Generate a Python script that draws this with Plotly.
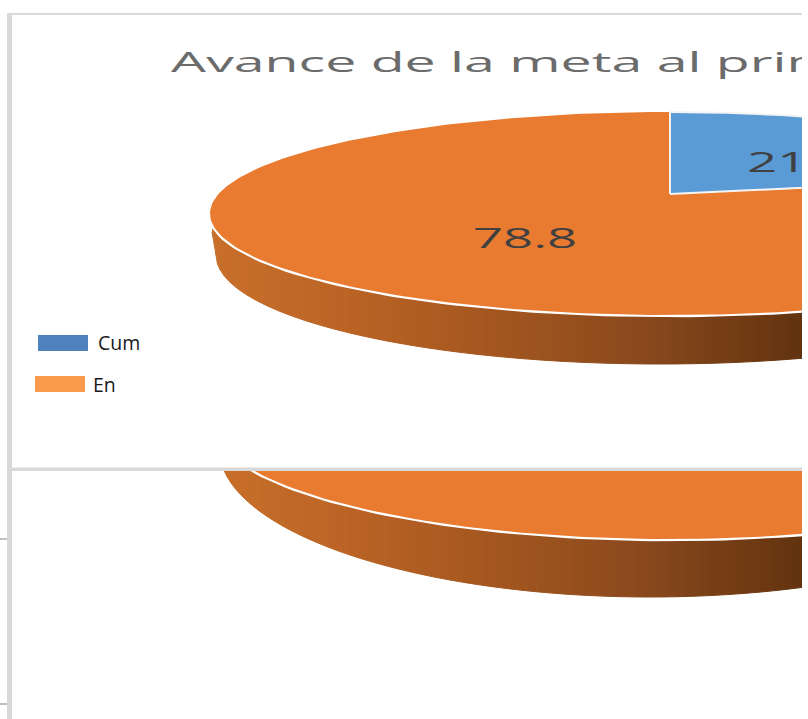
import numpy as np
import plotly.graph_objects as go

# ---- data ----
categories = ["Cum", "En"]
values = [21.2, 78.8]
title_text = "Avance de la meta al primer"

# ---- styling ----
W, H = 802, 719
SLICE_COLORS = ["#5B9BD5", "#E97B30"]
LEGEND_COLORS = ["#4F81BD", "#FA9A4A"]
LEGEND_BOXES = [(38, 335), (35, 376)]
LEGEND_TEXT = [(96, 342.5), (91, 384)]
FRAME = "#D9D9D9"
STUB = "#BFBFBF"
GRAD_X = [210, 350, 500, 640, 802]
GRAD_RGB = [(200, 112, 42), (186, 99, 37), (162, 86, 31), (138, 73, 29), (98, 51, 15)]

# top-face ellipse and wall-bottom ellipse of each of the two copies (cx, cy, rx, ry)
UP_TOP = (670, 213.5, 460, 101.5)
UP_BOT = (660, 255, 444, 109)
LOW_TOP = (670, 420, 460, 119)
LOW_BOT = (650, 448, 431, 149)
APEX = (670, 194)
SWEEP_K = 0.88  # foreshortening of the first slice's sweep in the tilted view

fig = go.Figure()


def poly(xs, ys, fill, line=None, width=0):
    fig.add_trace(go.Scatter(
        x=list(xs), y=list(ys), mode="lines", fill="toself", fillcolor=fill,
        line=dict(color=line or fill, width=width), hoverinfo="skip", showlegend=False))


def arc(e, t0, t1, n=240):
    t = np.radians(np.linspace(t0, t1, n))
    return e[0] + e[2] * np.sin(t), e[1] - e[3] * np.cos(t)


def lower_edge(e, x):
    u = np.clip((x - e[0]) / e[2], -1, 1)
    return e[1] + e[3] * np.sqrt(1 - u * u)


def wall_color(x):
    c = [int(round(np.interp(x, GRAD_X, [g[i] for g in GRAD_RGB]))) for i in range(3)]
    return "rgb(%d,%d,%d)" % tuple(c)


def wall(top, bot, x_start, taper=None):
    step = 4
    for x0 in np.arange(x_start, W, step):
        xs = np.linspace(x0, x0 + step, 4)
        ty = lower_edge(top, xs)
        by = lower_edge(bot, xs)
        if taper is not None:
            by = np.where(xs < bot[0] - bot[2],
                          np.interp(xs, taper[0], taper[1]), by)
        poly(np.r_[xs, xs[::-1]], np.r_[ty, by[::-1]], wall_color(x0), width=1)


def rim(e):
    ax, ay = arc(e, 0, 360)
    fig.add_trace(go.Scatter(x=ax, y=ay, mode="lines", line=dict(color="white", width=4.5),
                             hoverinfo="skip", showlegend=False))


total = sum(values)
sweep = values[0] / total * 360 * SWEEP_K

# lower copy, seen below the horizontal divider
wall(LOW_TOP, LOW_BOT, 219)
rim(LOW_TOP)
ax, ay = arc(LOW_TOP, 0, 360)
poly(ax, ay, SLICE_COLORS[1])
# page background over the part of the lower copy above the divider
poly([0, W, W, 0], [0, 0, 469, 469], "white")

# upper copy
wall(UP_TOP, UP_BOT, 212, taper=([212, 216], [232, 255]))
rim(UP_TOP)
ox, oy = arc(UP_TOP, sweep, 360)
poly(np.r_[APEX[0], ox], np.r_[APEX[1], oy], SLICE_COLORS[1])
bx, by = arc(UP_TOP, 0, sweep)
poly(np.r_[APEX[0], bx, APEX[0]], np.r_[APEX[1], by, APEX[1]], SLICE_COLORS[0],
     line="#F4F4F4", width=2)

# legend
for name, col, (lx, ly) in zip(categories, LEGEND_COLORS, LEGEND_BOXES):
    poly([lx, lx + 50, lx + 50, lx], [ly, ly, ly + 16, ly + 16], col)

annotations = [
    dict(x=169, y=61, text=title_text, xanchor="left", yanchor="middle", showarrow=False,
         font=dict(family="Open Sans", size=28, color="#6B6B6B")),
    dict(x=471, y=237, text=f"{values[1]:.1f}", xanchor="left", yanchor="middle", showarrow=False,
         font=dict(family="Open Sans", size=27, color="#404040")),
    dict(x=745, y=161, text=f"{values[0]:.1f}", xanchor="left", yanchor="middle", showarrow=False,
         font=dict(family="Open Sans", size=27, color="#404040")),
]
for name, (tx, ty) in zip(categories, LEGEND_TEXT):
    annotations.append(dict(x=tx, y=ty, text=name,
                            xanchor="left", yanchor="middle", showarrow=False,
                            font=dict(family="Open Sans", size=19.5, color="#1A1A1A")))

frame = [(7, 13, W, 15), (7, 13, 12, H), (12, 467.5, W, 471)]
stubs = [(0, 538, 7, 540), (0, 703, 7, 705)]
shapes = [dict(type="rect", x0=a, y0=b, x1=c, y1=d, fillcolor=FRAME, line_width=0, layer="above")
          for a, b, c, d in frame]
shapes += [dict(type="rect", x0=a, y0=b, x1=c, y1=d, fillcolor=STUB, line_width=0, layer="above")
           for a, b, c, d in stubs]

fig.update_layout(
    width=W, height=H, margin=dict(l=0, r=0, t=0, b=0, pad=0),
    paper_bgcolor="white", plot_bgcolor="white", showlegend=False,
    xaxis=dict(range=[0, W], visible=False, fixedrange=True),
    yaxis=dict(range=[H, 0], visible=False, fixedrange=True),
    annotations=annotations, shapes=shapes,
)

# The source picture was stretched sideways: widen the title and data labels the same way.
post = """
document.body.style.margin = '0';
document.documentElement.style.overflow = 'hidden';
var factors = {'%s': 1.98, '%s': 1.95, '%s': 1.95};
document.querySelectorAll('.annotation-text').forEach(function (el) {
  var f = factors[el.textContent];
  if (!f) return;
  var b = el.getBBox();
  var old = el.getAttribute('transform') || '';
  el.setAttribute('transform', 'translate(' + b.x + ',0) scale(' + f + ',1) translate(' + (-b.x) + ',0) ' + old);
});
""" % (title_text, f"{values[1]:.1f}", f"{values[0]:.1f}")

fig.write_html("out.html", post_script=post, config=dict(displayModeBar=False))
